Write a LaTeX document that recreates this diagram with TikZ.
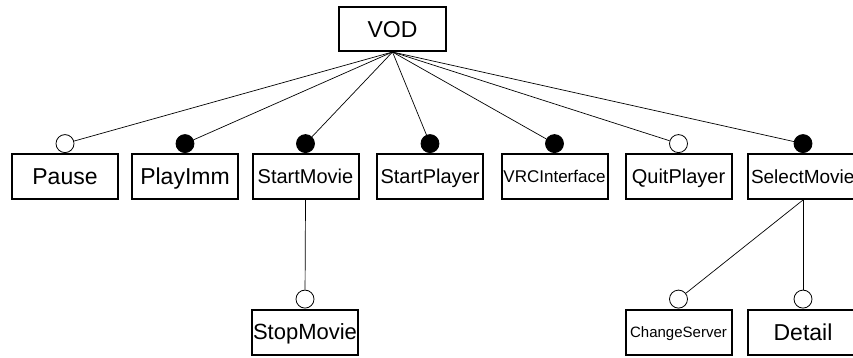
\documentclass[tikz,border=0pt]{standalone}
\usepackage{fontspec}
\setmainfont{Liberation Sans}
\begin{document}
\begin{tikzpicture}[x=1pt,y=-1pt,
  feat/.style={draw, line width=2pt, rectangle, minimum width=106pt,
    minimum height=45pt, inner sep=0pt, text depth=0pt},
  fs/.style n args={2}{font=\fontsize{#1pt}{#1pt}\selectfont, text height=#2pt},
  opt/.style={circle, draw, line width=0.8pt, fill=white, minimum size=18pt,
    inner sep=0pt, anchor=south},
  mand/.style={opt, fill=black},
  link/.style={line width=0.7pt}]
\useasboundingbox (0,0) rectangle (853,358);
\fill[white] (0,0) rectangle (853,358);
\clip (0,0) rectangle (853,358);

% root feature
\node[feat, fs={23}{16.5}, minimum width=107pt, minimum height=44pt] (vod) at (392.5,29) {VOD};

% first level
\node[feat, fs={23}{16.5}] (pause) at (65,176.5) {Pause};
\node[feat, fs={23}{16.5}] (playimm) at (185,176.5) {PlayImm};
\node[feat, fs={20}{14.3}] (startmovie) at (305.5,176.5) {StartMovie};
\node[feat, fs={20}{14.3}] (startplayer) at (430,176.5) {StartPlayer};
\node[feat, fs={17}{12.2}] (vrc) at (554.5,176.5) {VRCInterface};
\node[feat, fs={20}{14.3}] (quit) at (678.5,176.5) {QuitPlayer};
\node[feat, fs={19}{13.6}, minimum width=110pt, text width=104pt, align=left] (select) at (803,176.5) {SelectMovie};

% second level
\node[feat, fs={22}{15.8}] (stop) at (305,332) {StopMovie};
\node[feat, fs={15}{10.8}] (change) at (678.5,332) {ChangeServer};
\node[feat, fs={23}{16.5}, minimum width=110pt] (detail) at (803,332) {Detail};

% optional / mandatory markers
\node[opt]  (m-pause) at (pause.north) {};
\node[mand] (m-playimm) at (playimm.north) {};
\node[mand] (m-startmovie) at (startmovie.north) {};
\node[mand] (m-startplayer) at (startplayer.north) {};
\node[mand] (m-vrc) at (vrc.north) {};
\node[opt]  (m-quit) at (quit.north) {};
\node[mand] (m-select) at (select.north) {};
\node[opt]  (m-stop) at (stop.north) {};
\node[opt]  (m-change) at (change.north) {};
\node[opt]  (m-detail) at (detail.north) {};

% connectors
\foreach \c in {m-pause,m-playimm,m-startmovie,m-startplayer,m-vrc,m-quit,m-select}
  \draw[link] (vod.south) -- (\c);
\draw[link] (startmovie.south) -- (m-stop);
\draw[link] (select.south) -- (m-change);
\draw[link] (select.south) -- (m-detail);
\end{tikzpicture}
\end{document}
